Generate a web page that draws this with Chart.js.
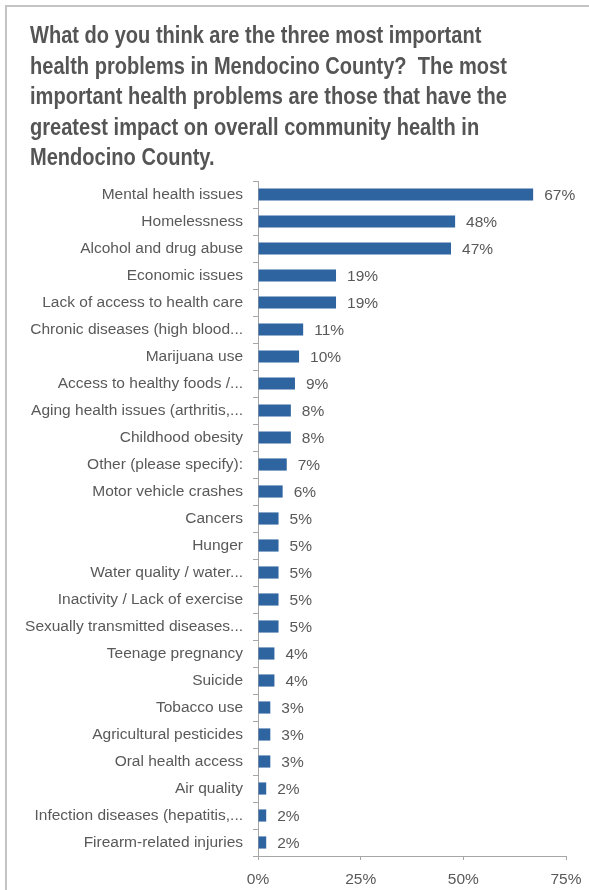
<!DOCTYPE html>
<html>
<head>
<meta charset="utf-8">
<script src="https://cdn.jsdelivr.net/npm/chart.js@4/dist/chart.umd.min.js"></script>
<style>
    html, body { margin: 0; padding: 0; background: #fff; }
    #wrap { position: relative; width: 589px; height: 890px; overflow: hidden; }
    #frame { position: absolute; left: 5px; top: 5px; width: 620px; height: 920px;
             border: 2px solid #c4c4c4; pointer-events: none; }
    canvas { position: absolute; left: 0; top: 0; }
    #title { position: absolute; left: 30px; top: 20px; margin: 0;
             font: bold 24px/30.5px "Liberation Sans", Arial, sans-serif;
             color: #555555; white-space: pre; transform-origin: 0 0; }
</style>
</head>
<body>
<div id="wrap">
    <canvas id="chart" width="589" height="890"></canvas>
    <div id="title"></div>
    <div id="frame"></div>
</div>
<script>
const titleLines = [
    'What do you think are the three most important',
    'health problems in Mendocino County?  The most',
    'important health problems are those that have the',
    'greatest impact on overall community health in',
    'Mendocino County.'
];

const problems = [
    'Mental health issues',
    'Homelessness',
    'Alcohol and drug abuse',
    'Economic issues',
    'Lack of access to health care',
    'Chronic diseases (high blood...',
    'Marijuana use',
    'Access to healthy foods /...',
    'Aging health issues (arthritis,...',
    'Childhood obesity',
    'Other (please specify):',
    'Motor vehicle crashes',
    'Cancers',
    'Hunger',
    'Water quality / water...',
    'Inactivity / Lack of exercise',
    'Sexually transmitted diseases...',
    'Teenage pregnancy',
    'Suicide',
    'Tobacco use',
    'Agricultural pesticides',
    'Oral health access',
    'Air quality',
    'Infection diseases (hepatitis,...',
    'Firearm-related injuries'
];

const percents = [67, 48, 47, 19, 19, 11, 10, 9, 8, 8, 7, 6, 5, 5, 5, 5, 5, 4, 4, 3, 3, 3, 2, 2, 2];

const xTicks = [0, 25, 50, 75];

const textGray = '#595959';
const barBlue = '#2e64a0';
const axisGray = '#a6a6a6';
const labelFont = { family: '"Liberation Sans", Arial, sans-serif', size: 15.5 };

// title: real text, squeezed to look like the condensed face in the original
const titleEl = document.getElementById('title');
titleLines.forEach((line) => {
    const d = document.createElement('div');
    d.textContent = line;
    titleEl.appendChild(d);
});
const firstW = titleEl.firstChild.getBoundingClientRect().width;
titleEl.style.transform = 'scaleX(' + (477 / firstW) + ')';

// draws "67%" etc. just past the end of each bar
const valueLabels = {
    id: 'valueLabels',
    afterDatasetsDraw(chart) {
        const ctx = chart.ctx;
        const meta = chart.getDatasetMeta(0);
        ctx.save();
        ctx.font = labelFont.size + 'px ' + labelFont.family;
        ctx.fillStyle = textGray;
        ctx.textBaseline = 'middle';
        ctx.textAlign = 'left';
        meta.data.forEach((bar, i) => {
            ctx.fillText(percents[i] + '%', bar.x + 11, bar.y + 1);
        });
        ctx.restore();
    }
};

new Chart(document.getElementById('chart'), {
    type: 'bar',
    data: {
        labels: problems,
        datasets: [{
            data: percents,
            backgroundColor: barBlue,
            barPercentage: 0.45,
            categoryPercentage: 1
        }]
    },
    options: {
        indexAxis: 'y',
        responsive: false,
        maintainAspectRatio: false,
        animation: false,
        layout: { padding: { left: 0, right: 23, top: 181, bottom: 0 } },
        plugins: {
            legend: { display: false },
            tooltip: { enabled: false }
        },
        scales: {
            x: {
                min: 0,
                max: 75,
                afterBuildTicks: (axis) => { axis.ticks = xTicks.map(v => ({ value: v })); },
                afterFit: (axis) => {
                    axis.height = 34;
                    axis.paddingRight = 0;
                },
                ticks: {
                    callback: (v) => v + '%',
                    color: textGray,
                    font: labelFont,
                    padding: 10
                },
                grid: { drawOnChartArea: false, tickLength: 4, color: axisGray },
                border: { color: axisGray }
            },
            y: {
                afterFit: (axis) => { axis.width = 258; },
                ticks: {
                    color: textGray,
                    font: labelFont,
                    padding: 10,
                    autoSkip: false
                },
                grid: { drawOnChartArea: false, tickLength: 5, color: axisGray, offset: true },
                border: { color: axisGray }
            }
        }
    },
    plugins: [valueLabels]
});
</script>
</body>
</html>
